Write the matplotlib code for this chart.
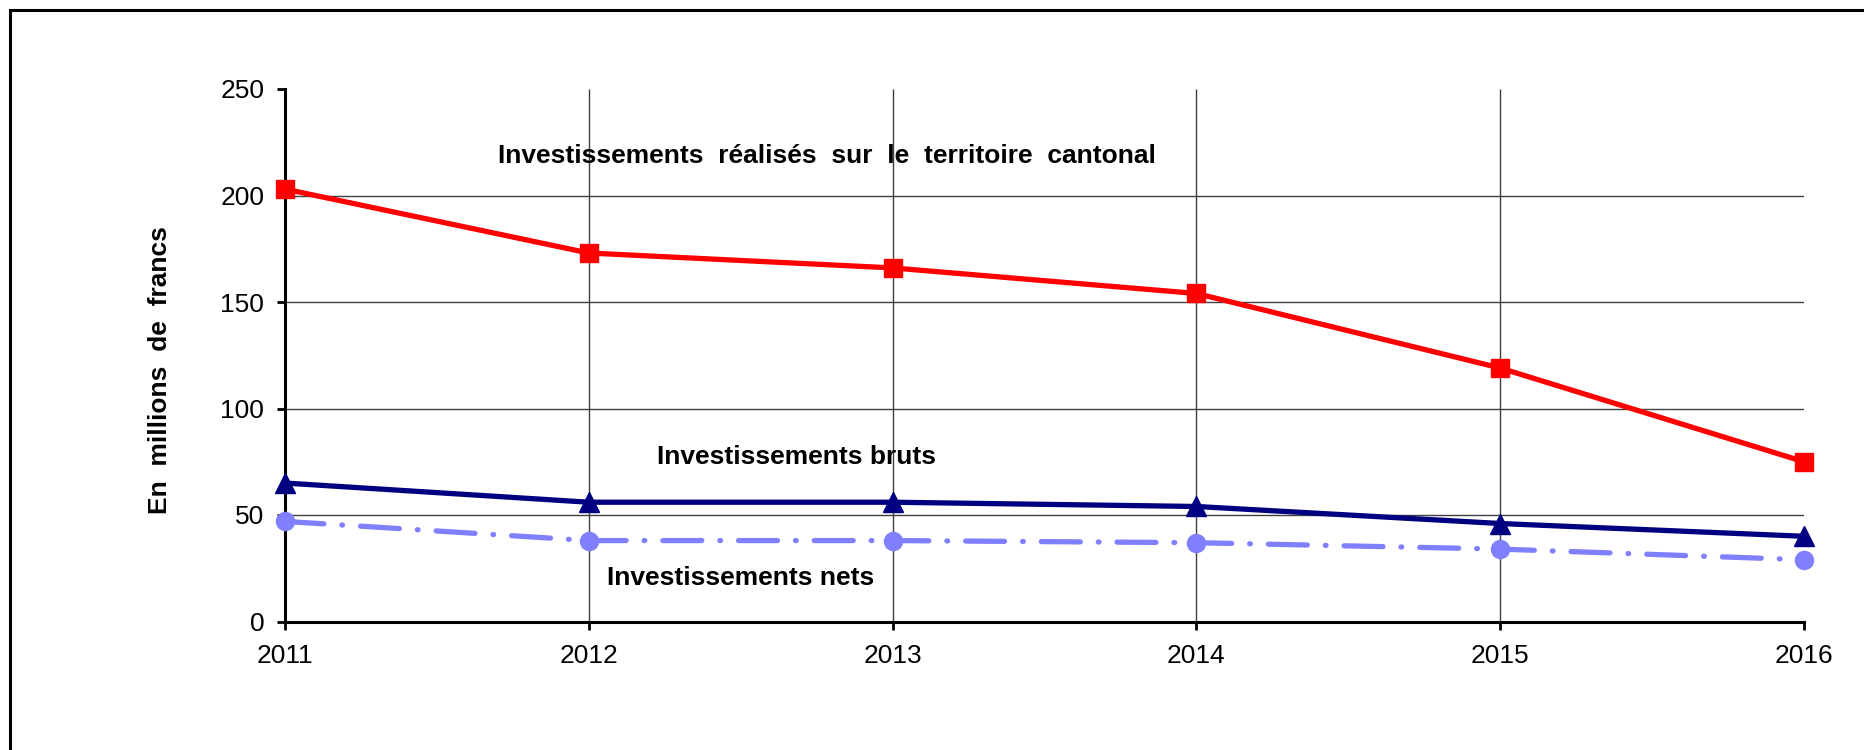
import matplotlib
matplotlib.use("Agg")
import matplotlib.pyplot as plt
from matplotlib.patches import Rectangle

############################################
# DATA (millions de francs)
############################################

years = [2011, 2012, 2013, 2014, 2015, 2016]
territoire = [203, 173, 166, 154, 119, 75]
bruts = [65, 56, 56, 54, 46, 40]
nets = [47, 38, 38, 37, 34, 29]

y_ticks = [0, 50, 100, 150, 200, 250]

label_territoire = "Investissements  réalisés  sur  le  territoire  cantonal"
label_bruts = "Investissements bruts"
label_nets = "Investissements nets"
y_label = "En  millions  de  francs"

############################################
# FIGURE
############################################

plt.rcParams["font.family"] = ["Liberation Sans", "DejaVu Sans"]
plt.rcParams["font.size"] = 19
plt.rcParams["lines.scale_dashes"] = False

W, H = 1865, 750
fig = plt.figure(figsize=(W / 100, H / 100), dpi=100)
left, right, top, bottom = 285, 1804, 89, 621.5
ax = fig.add_axes([left / W, 1 - bottom / H, (right - left) / W, (bottom - top) / H])

# outer frame (only left/top edges fall inside the image)
fig.patches.append(Rectangle((10 / W, -0.05), 1.1, 1.05 - 10 / H,
                             transform=fig.transFigure, fill=False,
                             edgecolor="black", linewidth=2.2))

# grid
ax.hlines(y_ticks[1:-1], years[0], years[-1], color="#404040", linewidth=1.0, zorder=1)
ax.vlines(years[1:-1], 0, y_ticks[-1], color="#404040", linewidth=1.0, zorder=1)

ax.plot(years, nets, color="#8080FF", linewidth=3.8, marker="o", markersize=13,
        linestyle=(0, (28, 13, 0.5, 13)), dash_capstyle="round",
        clip_on=False, zorder=3)
ax.plot(years, bruts, color="#000080", linewidth=3.8, marker="^", markersize=14,
        clip_on=False, zorder=4)
ax.plot(years, territoire, color="#FF0000", linewidth=3.8, marker="s", markersize=12.5,
        clip_on=False, zorder=5)

ax.set_xlim(years[0], years[-1])
ax.set_ylim(y_ticks[0], y_ticks[-1])
ax.set_xticks(years)
ax.set_yticks(y_ticks)

for side in ["top", "right"]:
    ax.spines[side].set_visible(False)
for side in ["left", "bottom"]:
    ax.spines[side].set_linewidth(2.2)
ax.tick_params(axis="y", direction="out", length=6, width=2, pad=9)
ax.tick_params(axis="x", direction="out", length=6, width=2, pad=10)

ax.text(2012.784, 218.5, label_territoire, fontweight="bold", ha="center", va="center")
ax.text(2012.685, 77, label_bruts, fontweight="bold", ha="center", va="center")
ax.text(2012.50, 20.5, label_nets, fontweight="bold", ha="center", va="center",
        bbox=dict(facecolor="white", edgecolor="none", pad=1), zorder=6)

fig.text(160 / W, 1 - 370 / H, y_label, fontweight="bold", rotation=90,
         ha="center", va="center")

fig.savefig("out.png", dpi=100)
